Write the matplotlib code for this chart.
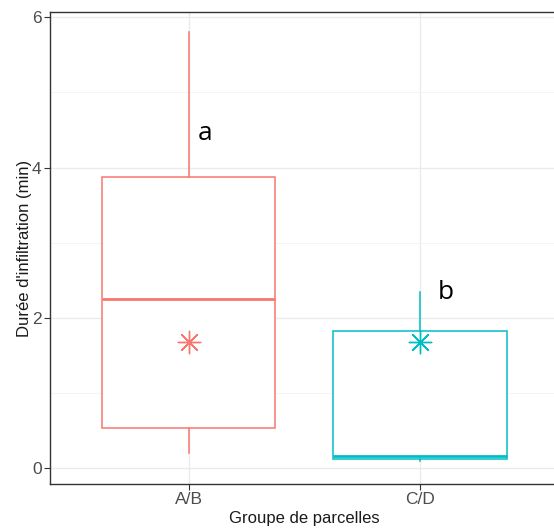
import matplotlib
matplotlib.use("Agg")
import matplotlib.pyplot as plt

# data
groups = ["A/B", "C/D"]
whisker_low = [0.2, 0.1]
q1 = [0.53, 0.12]
median = [2.25, 0.16]
q3 = [3.88, 1.82]
whisker_high = [5.8, 2.35]
means = [1.68, 1.68]
letters = ["a", "b"]
letter_x = [1.07, 2.11]
letter_y = [4.45, 2.34]
colors = ["#F8766D", "#00BFC4"]

plt.rcParams['font.family'] = ['Liberation Sans', 'DejaVu Sans']

fig = plt.figure(figsize=(5.54, 5.32), dpi=100)
ax = fig.add_axes([50 / 554, 1 - 484 / 532, (558.6 - 50) / 554, 472 / 532])

stats = []
for i, g in enumerate(groups):
    stats.append({"label": g, "whislo": whisker_low[i], "q1": q1[i], "med": median[i],
                  "q3": q3[i], "whishi": whisker_high[i], "fliers": []})

pos = list(range(1, len(groups) + 1))
bp = ax.bxp(stats, positions=pos, widths=0.75, showcaps=False, showfliers=False,
            patch_artist=True, zorder=3)
for i in range(len(groups)):
    bp["boxes"][i].set(facecolor="white", edgecolor=colors[i], linewidth=1.1)
    bp["medians"][i].set(color=colors[i], linewidth=2.0)
    for w in bp["whiskers"][2 * i:2 * i + 2]:
        w.set(color=colors[i], linewidth=1.1)

# mean markers (asterisk) and group letters
for i in range(len(groups)):
    ax.scatter(pos[i], means[i], marker=(8, 2, 0), s=260, color=colors[i],
               linewidths=1.0, zorder=4)
    ax.text(letter_x[i], letter_y[i], letters[i], fontsize=19, color="black",
            family=["Open Sans", "DejaVu Sans"], ha="center", va="center", zorder=5)

ax.set_xlim(0.4, 2.6)
ax.set_ylim(-0.21, 6.07)
ax.set_yticks([0, 2, 4, 6])
ax.set_yticks([1, 3, 5], minor=True)
ax.set_xticks(pos)
ax.set_xticklabels(groups)
ax.grid(True, which="major", color="#EBEBEB", linewidth=1.0, zorder=0)
ax.grid(True, which="minor", axis="y", color="#F2F2F2", linewidth=0.6, zorder=0)
ax.set_axisbelow(True)
ax.tick_params(axis="both", which="major", colors="#333333", labelcolor="#4D4D4D",
               labelsize=12.5, length=4, width=0.8, pad=2)
ax.tick_params(axis="y", which="minor", length=0)
for s in ax.spines.values():
    s.set_color("#333333")
    s.set_linewidth(1.0)

ax.set_xlabel("Groupe de parcelles", fontsize=12, color="#1A1A1A", labelpad=3)
ax.set_ylabel("Durée d'infiltration (min)", fontsize=12, color="#1A1A1A", labelpad=0)

fig.savefig("out.png", dpi=100)
